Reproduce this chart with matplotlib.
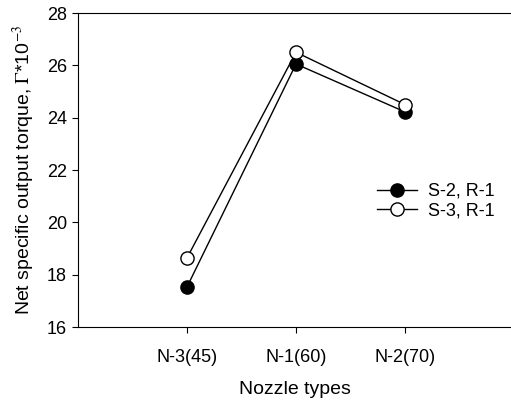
import matplotlib.pyplot as plt

plt.rcParams['font.family'] = ['Liberation Sans', 'DejaVu Sans']
plt.rcParams['mathtext.fontset'] = 'stix'

nozzles = ["N-3(45)", "N-1(60)", "N-2(70)"]
s2_r1 = [17.53, 26.05, 24.22]
s3_r1 = [18.64, 26.50, 24.50]

W, H = 511, 401


def main():
    fig = plt.figure(figsize=(W / 100, H / 100), dpi=100)
    # frame runs off the right edge, so no right spine is drawn
    ax = fig.add_axes([78 / W, (H - 327) / H, (W - 78) / W, 314 / H])
    xs = range(1, len(nozzles) + 1)
    ax.plot(xs, s2_r1, color='black', lw=1, marker='o', ms=9.5,
            mfc='black', mec='black', label="S-2, R-1")
    ax.plot(xs, s3_r1, color='black', lw=1, marker='o', ms=9.5,
            mfc='white', mec='black', label="S-3, R-1")

    ax.set_xlim(0, (W - 78) / 109)
    ax.set_ylim(16, 28)
    ax.set_xticks(list(xs))
    ax.set_xticklabels(nozzles, fontsize=13)
    ax.set_yticks(range(16, 29, 2))
    ax.tick_params(axis='y', labelsize=13, direction='out', length=4, pad=4)
    ax.tick_params(axis='x', direction='out', length=4, pad=12)
    ax.spines['right'].set_visible(False)
    ax.set_xlabel("Nozzle types", fontsize=14, labelpad=11)
    ax.set_ylabel(r"Net specific output torque, $\Gamma$*10$^{-3}$", fontsize=14,
                  labelpad=7)

    ax.legend(loc='upper left', bbox_to_anchor=(377 / W, 1 - 183 / H),
              bbox_transform=fig.transFigure, borderaxespad=0, borderpad=0,
              frameon=False, fontsize=13, handlelength=2.2,
              handletextpad=0.6, labelspacing=0.12)
    fig.savefig("out.png", dpi=100)


if __name__ == "__main__":
    main()
